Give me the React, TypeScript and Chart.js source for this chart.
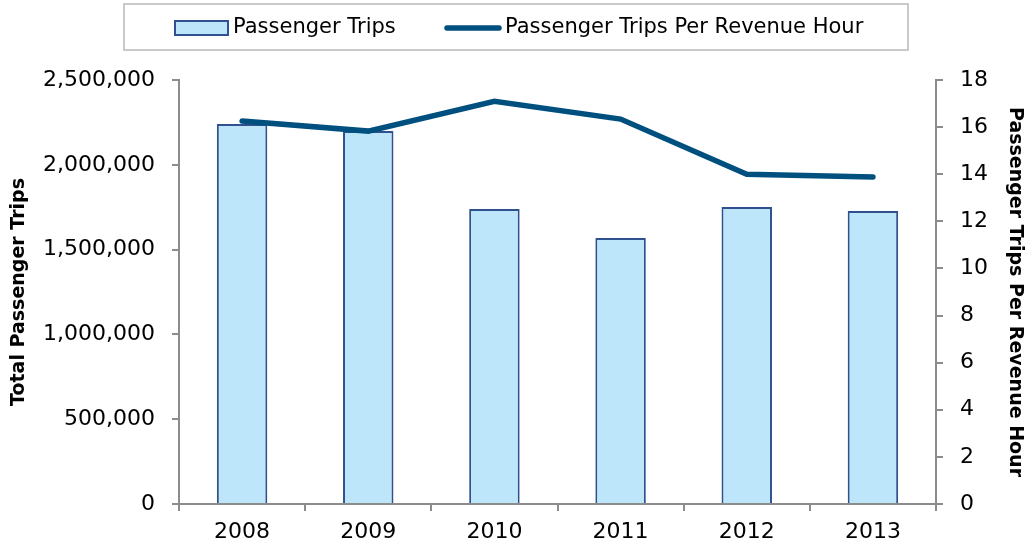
import React, { useEffect, useRef } from "react";
import { Chart, registerables } from "chart.js";

Chart.register(...registerables);

const categories = ["2008", "2009", "2010", "2011", "2012", "2013"];
const passengerTrips = [2240000, 2200000, 1740000, 1568000, 1751000, 1728000];
const tripsPerRevenueHour = [16.26, 15.83, 17.1, 16.34, 14.0, 13.88];
const seriesNames = ["Passenger Trips", "Passenger Trips Per Revenue Hour"];
const leftAxisTitle = "Total Passenger Trips";
const rightAxisTitle = "Passenger Trips Per Revenue Hour";

const FONT = "'DejaVu Sans', sans-serif";
const BAR_FILL = "#BDE6FB";
const BAR_BORDER = "#2F528F";
const LINE_COLOR = "#00507F";
const AXIS_GRAY = "#8C8C8C";

const legendPlugin = {
  id: "boxedLegend",
  afterDraw(chart: any) {
    const ctx = chart.ctx;
    ctx.save();
    ctx.strokeStyle = "#C9C9C9";
    ctx.lineWidth = 2;
    ctx.strokeRect(124, 4, 784, 46);
    // bar swatch
    ctx.fillStyle = BAR_FILL;
    ctx.fillRect(175, 21, 53, 14);
    ctx.strokeStyle = BAR_BORDER;
    ctx.lineWidth = 2;
    ctx.strokeRect(175, 21, 53, 14);
    // line swatch
    ctx.strokeStyle = LINE_COLOR;
    ctx.lineWidth = 5.5;
    ctx.lineCap = "round";
    ctx.beginPath();
    ctx.moveTo(447, 28);
    ctx.lineTo(499, 28);
    ctx.stroke();
    ctx.fillStyle = "#000";
    ctx.font = `21px ${FONT}`;
    ctx.textBaseline = "middle";
    ctx.textAlign = "left";
    ctx.fillText(seriesNames[0], 233, 28);
    ctx.fillText(seriesNames[1], 505, 28);
    ctx.restore();
  },
};

export default function App() {
  const ref = useRef<HTMLCanvasElement>(null);
  useEffect(() => {
    document.body.style.margin = "0";
    const chart = new Chart(ref.current as HTMLCanvasElement, {
      type: "bar",
      data: {
        labels: categories,
        datasets: [
          {
            type: "line",
            label: seriesNames[1],
            data: tripsPerRevenueHour,
            yAxisID: "y1",
            borderColor: LINE_COLOR,
            backgroundColor: LINE_COLOR,
            borderWidth: 5.5,
            pointRadius: 0,
            borderCapStyle: "round",
            tension: 0,
            order: 0,
          } as any,
          {
            type: "bar",
            label: seriesNames[0],
            data: passengerTrips,
            yAxisID: "y",
            backgroundColor: BAR_FILL,
            borderColor: BAR_BORDER,
            borderWidth: 2,
            barPercentage: 0.4,
            categoryPercentage: 1,
            order: 1,
          },
        ],
      },
      plugins: [legendPlugin],
      options: {
        responsive: false,
        animation: false,
        layout: { padding: { top: 80, left: 0, right: 0, bottom: 0 } },
        plugins: { legend: { display: false }, tooltip: { enabled: false } },
        scales: {
          x: {
            grid: {
              display: true,
              drawOnChartArea: false,
              drawTicks: true,
              tickLength: 7,
              color: AXIS_GRAY,
              lineWidth: 2,
            },
            border: { color: AXIS_GRAY, width: 2 },
            ticks: { color: "#000", font: { family: FONT, size: 22 }, padding: 8 },
            afterFit: (s: any) => {
              s.height = 46;
            },
          },
          y: {
            position: "left",
            min: 0,
            max: 2500000,
            ticks: {
              stepSize: 500000,
              color: "#000",
              font: { family: FONT, size: 22 },
              padding: 17,
              callback: (v: any) => Number(v).toLocaleString("en-US"),
            },
            grid: {
              drawOnChartArea: false,
              drawTicks: true,
              tickLength: 7,
              color: AXIS_GRAY,
              lineWidth: 2,
            },
            border: { color: AXIS_GRAY, width: 2 },
            title: {
              display: true,
              text: leftAxisTitle,
              color: "#000",
              font: { family: FONT, size: 19, weight: "bold" },
              padding: { top: 8, bottom: 0 },
            },
            afterFit: (s: any) => {
              s.width = 179;
            },
          },
          y1: {
            position: "right",
            min: 0,
            max: 18,
            ticks: {
              stepSize: 2,
              color: "#000",
              font: { family: FONT, size: 22 },
              padding: 17,
            },
            grid: {
              drawOnChartArea: false,
              drawTicks: true,
              tickLength: 7,
              color: AXIS_GRAY,
              lineWidth: 2,
            },
            border: { color: AXIS_GRAY, width: 2 },
            title: {
              display: true,
              text: rightAxisTitle,
              color: "#000",
              font: { family: FONT, size: 19, weight: "bold" },
              padding: { top: 0, bottom: 2 },
            },
            afterFit: (s: any) => {
              s.width = 90;
            },
          },
        },
      },
    });
    return () => chart.destroy();
  }, []);
  return (
    <div style={{ width: 1026, height: 550 }}>
      <canvas ref={ref} width={1026} height={550} />
    </div>
  );
}
